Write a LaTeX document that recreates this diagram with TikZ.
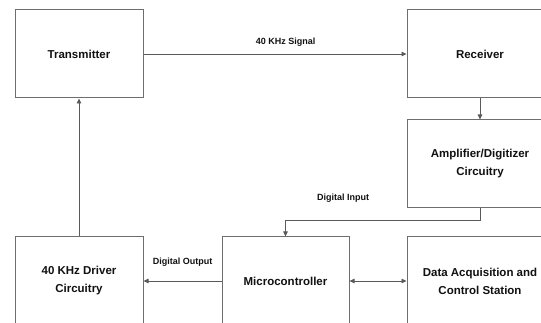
\documentclass[tikz,border=0pt]{standalone}
\usepackage{fontspec}
\setmainfont{Liberation Sans}
\usepackage{xcolor}
\usetikzlibrary{arrows.meta}
\definecolor{boxgray}{HTML}{6E6E6E}
\definecolor{wiregray}{HTML}{5A5A5A}
\definecolor{textdark}{HTML}{111111}
\tikzset{
  block/.style={draw=boxgray,line width=1pt,fill=white,minimum height=88pt,
    align=center,font=\fontsize{11.5}{18}\selectfont\bfseries,text=textdark,inner sep=0pt},
  narrow block/.style={block,minimum width=128pt},
  wide block/.style={block,minimum width=146pt},
  wire/.style={draw=wiregray,line width=0.8pt,-{Triangle[length=5pt,width=4.5pt]}},
  both wire/.style={wire,{Triangle[length=5pt,width=4.5pt]}-{Triangle[length=5pt,width=4.5pt]}},
  tag/.style={font=\fontsize{9}{11}\selectfont\bfseries,text=textdark}
}

\begin{document}
\begin{tikzpicture}[x=1pt,y=-1pt]
  \useasboundingbox (0,0) rectangle (541,323);
  \clip (0,0) rectangle (541,323);
  % top row
  \node[narrow block] (tx) at (79,54) {Transmitter};
  \node[wide block] (rx) at (480,54) {Receiver};
  \node[wide block] (amp) at (480,164) {Amplifier/Digitizer\\Circuitry};
  % bottom row
  \node[narrow block] (drv) at (79,281) {40 KHz Driver\\Circuitry};
  \node[narrow block,minimum width=127pt] (mcu) at (285.5,281) {Microcontroller};
  \node[wide block] (daq) at (480,281) {Data Acquisition and\\Control Station};
  \draw[wire] (tx.east) -- node[tag,above=4pt,pos=0.54] (sig) {40 KHz Signal} (rx.west);
  \draw[wire] (rx.south) -- (amp.north);
  \draw[wire] (amp.south) -- ++(0,12) coordinate (bend) -| (mcu.north);
  \node[tag] (din) at (343,198) {Digital Input};
  \draw[wire] (mcu.west) -- node[tag,above=11pt] (dout) {Digital Output} (drv.east);
  \draw[both wire] (mcu.east) -- (daq.west);
  \draw[wire] (drv.north) -- (tx.south);
\end{tikzpicture}
\end{document}
